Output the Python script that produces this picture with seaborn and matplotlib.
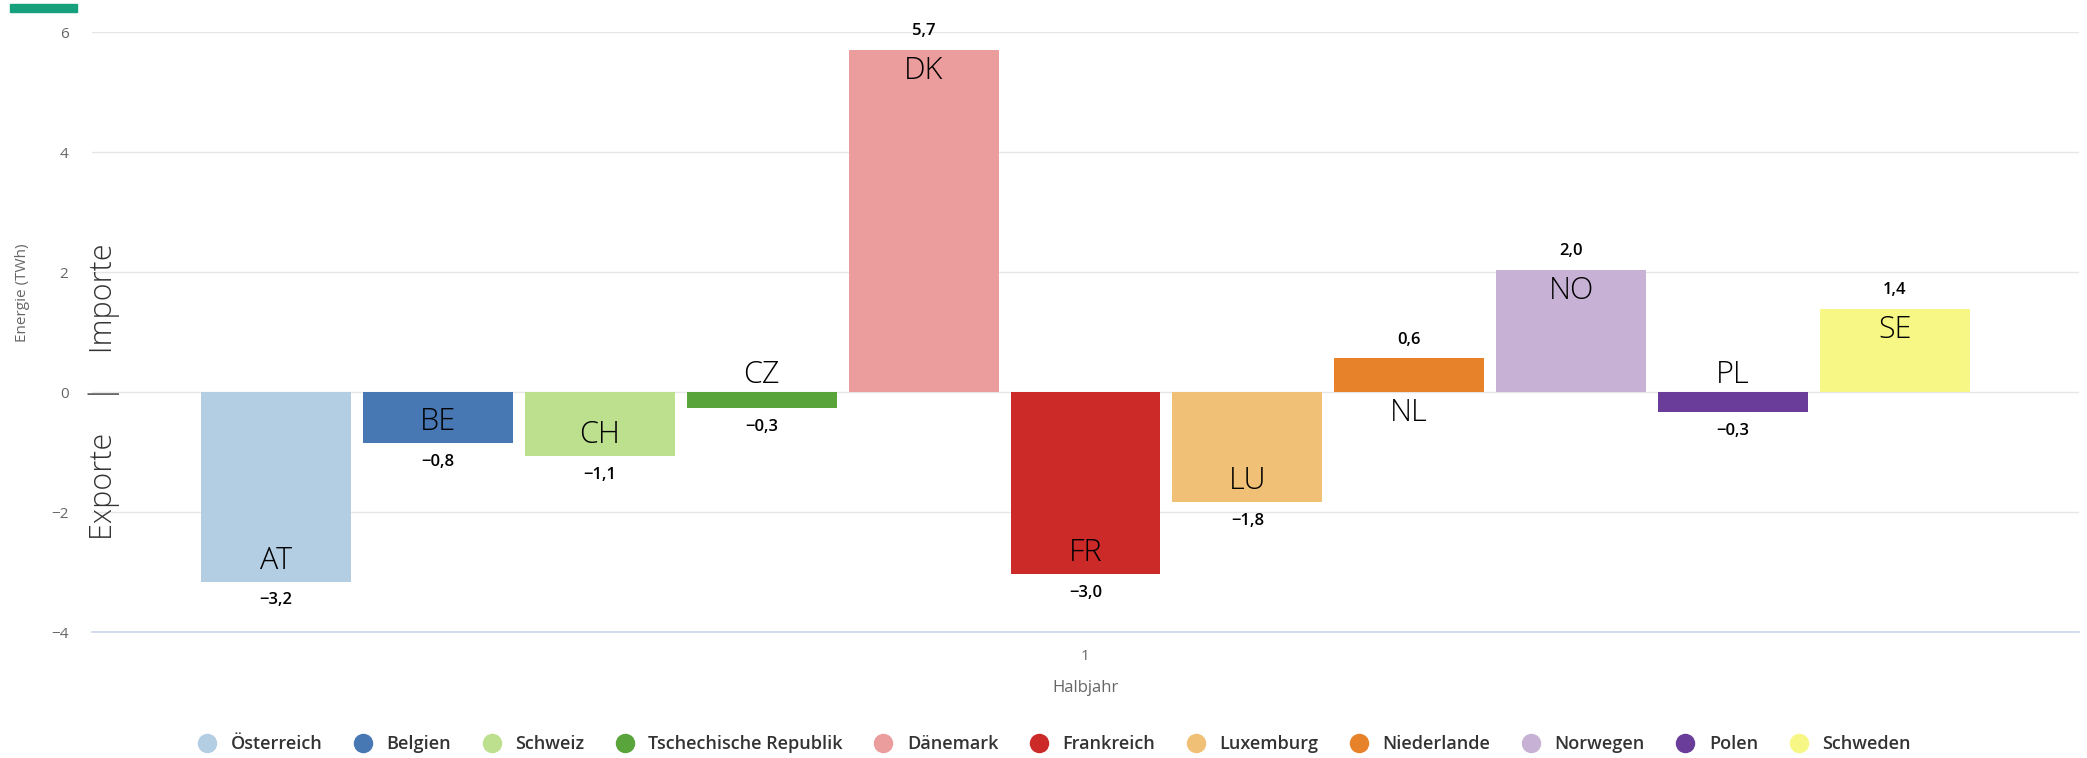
import pandas as pd
import seaborn as sns
import matplotlib.pyplot as plt
from matplotlib.lines import Line2D
from matplotlib.patches import Rectangle

# data (TWh, first half-year)
countries = ["Österreich", "Belgien", "Schweiz", "Tschechische Republik", "Dänemark",
             "Frankreich", "Luxemburg", "Niederlande", "Norwegen", "Polen", "Schweden"]
codes = ["AT", "BE", "CH", "CZ", "DK", "FR", "LU", "NL", "NO", "PL", "SE"]
values = [-3.16, -0.85, -1.07, -0.27, 5.70, -3.03, -1.83, 0.56, 2.03, -0.33, 1.38]
colors = ["#b3cde3", "#4878b4", "#bde08e", "#5aa43c", "#eb9c9c", "#cc2929",
          "#f1c077", "#e8822a", "#c7b2d6", "#6a3d9a", "#f7f786"]
period = "1"

df = pd.DataFrame({"Halbjahr": [period] * len(countries), "Land": countries, "Energie": values})

sns.set_theme(style="white")
plt.rcParams["font.family"] = ["Open Sans", "DejaVu Sans"]

fig = plt.figure(figsize=(20.87, 7.58), dpi=100)
ax = fig.add_axes([92 / 2087, 1 - 632 / 758, (2079 - 92) / 2087, (632 - 32) / 758])

sns.barplot(data=df, x="Halbjahr", y="Energie", hue="Land", hue_order=countries,
            palette=colors, saturation=1, width=0.896, gap=0.074, linewidth=0,
            legend=False, ax=ax)

ax.set_xlim(-0.5, 0.5)
ax.set_ylim(-4, 6)
ax.set_yticks([-4, -2, 0, 2, 4, 6])
ax.yaxis.grid(True, color="#e6e6e6", linewidth=1)
ax.set_axisbelow(True)
for s in ["top", "right", "left"]:
    ax.spines[s].set_visible(False)
ax.spines["bottom"].set_color("#ccd6eb")
ax.spines["bottom"].set_linewidth(1.2)
ax.tick_params(axis="y", length=0, pad=17, labelsize=11, labelcolor="#666666")
ax.tick_params(axis="x", length=0, pad=12, labelsize=11, labelcolor="#666666")
ax.set_ylabel("")
ax.set_xlabel("Halbjahr", fontsize=12, color="#666666", labelpad=12)

def fmt(v):
    s = f"{abs(v):.1f}".replace(".", ",")
    return ("\u2212" + s) if v < 0 else s

# labels on bars
for cont, code, v in zip(ax.containers, codes, values):
    bar = cont[0]
    xc = bar.get_x() + bar.get_width() / 2
    # value at bar end, outside
    ax.annotate(fmt(v), (xc, v), xytext=(0, 13.5 if v > 0 else -13.5), textcoords="offset points",
                ha="center", va="center", fontsize=12, fontweight="semibold", color="black")
    # country code inside the bar end, or across zero when bar is short
    if abs(v) >= 0.7:
        ax.annotate(code, (xc, v), xytext=(0, -15 if v > 0 else 15), textcoords="offset points",
                    ha="center", va="center", fontsize=22, fontweight="light", color="black")
    else:
        ax.annotate(code, (xc, 0), xytext=(0, -15 if v > 0 else 12), textcoords="offset points",
                    ha="center", va="center", fontsize=22, fontweight="light", color="black")

# side notes
ax.text(0.006, 0, "Exporte    |    Importe", transform=ax.get_yaxis_transform(), rotation=90,
        ha="center", va="center", fontsize=22, fontweight="light", color="#333333")
fig.text(23 / 2087, 1 - 293 / 758, "Energie (TWh)", rotation=90, ha="center", va="center",
         fontsize=11, color="#666666")
fig.patches.append(Rectangle((10 / 2087, 1 - 12 / 758), 67 / 2087, 8 / 758,
                             transform=fig.transFigure, color="#17a07c", figure=fig))

handles = [Line2D([], [], marker="o", linestyle="", markersize=13, markerfacecolor=c,
                  markeredgecolor=c) for c in colors]
fig.legend(handles, countries, loc="center", bbox_to_anchor=(0.503, 0.018), ncol=len(countries),
           frameon=False, prop={"size": 13, "weight": "semibold"}, handletextpad=0.3,
           columnspacing=1.25, labelcolor="#333333")

fig.savefig("out.png", dpi=100)
